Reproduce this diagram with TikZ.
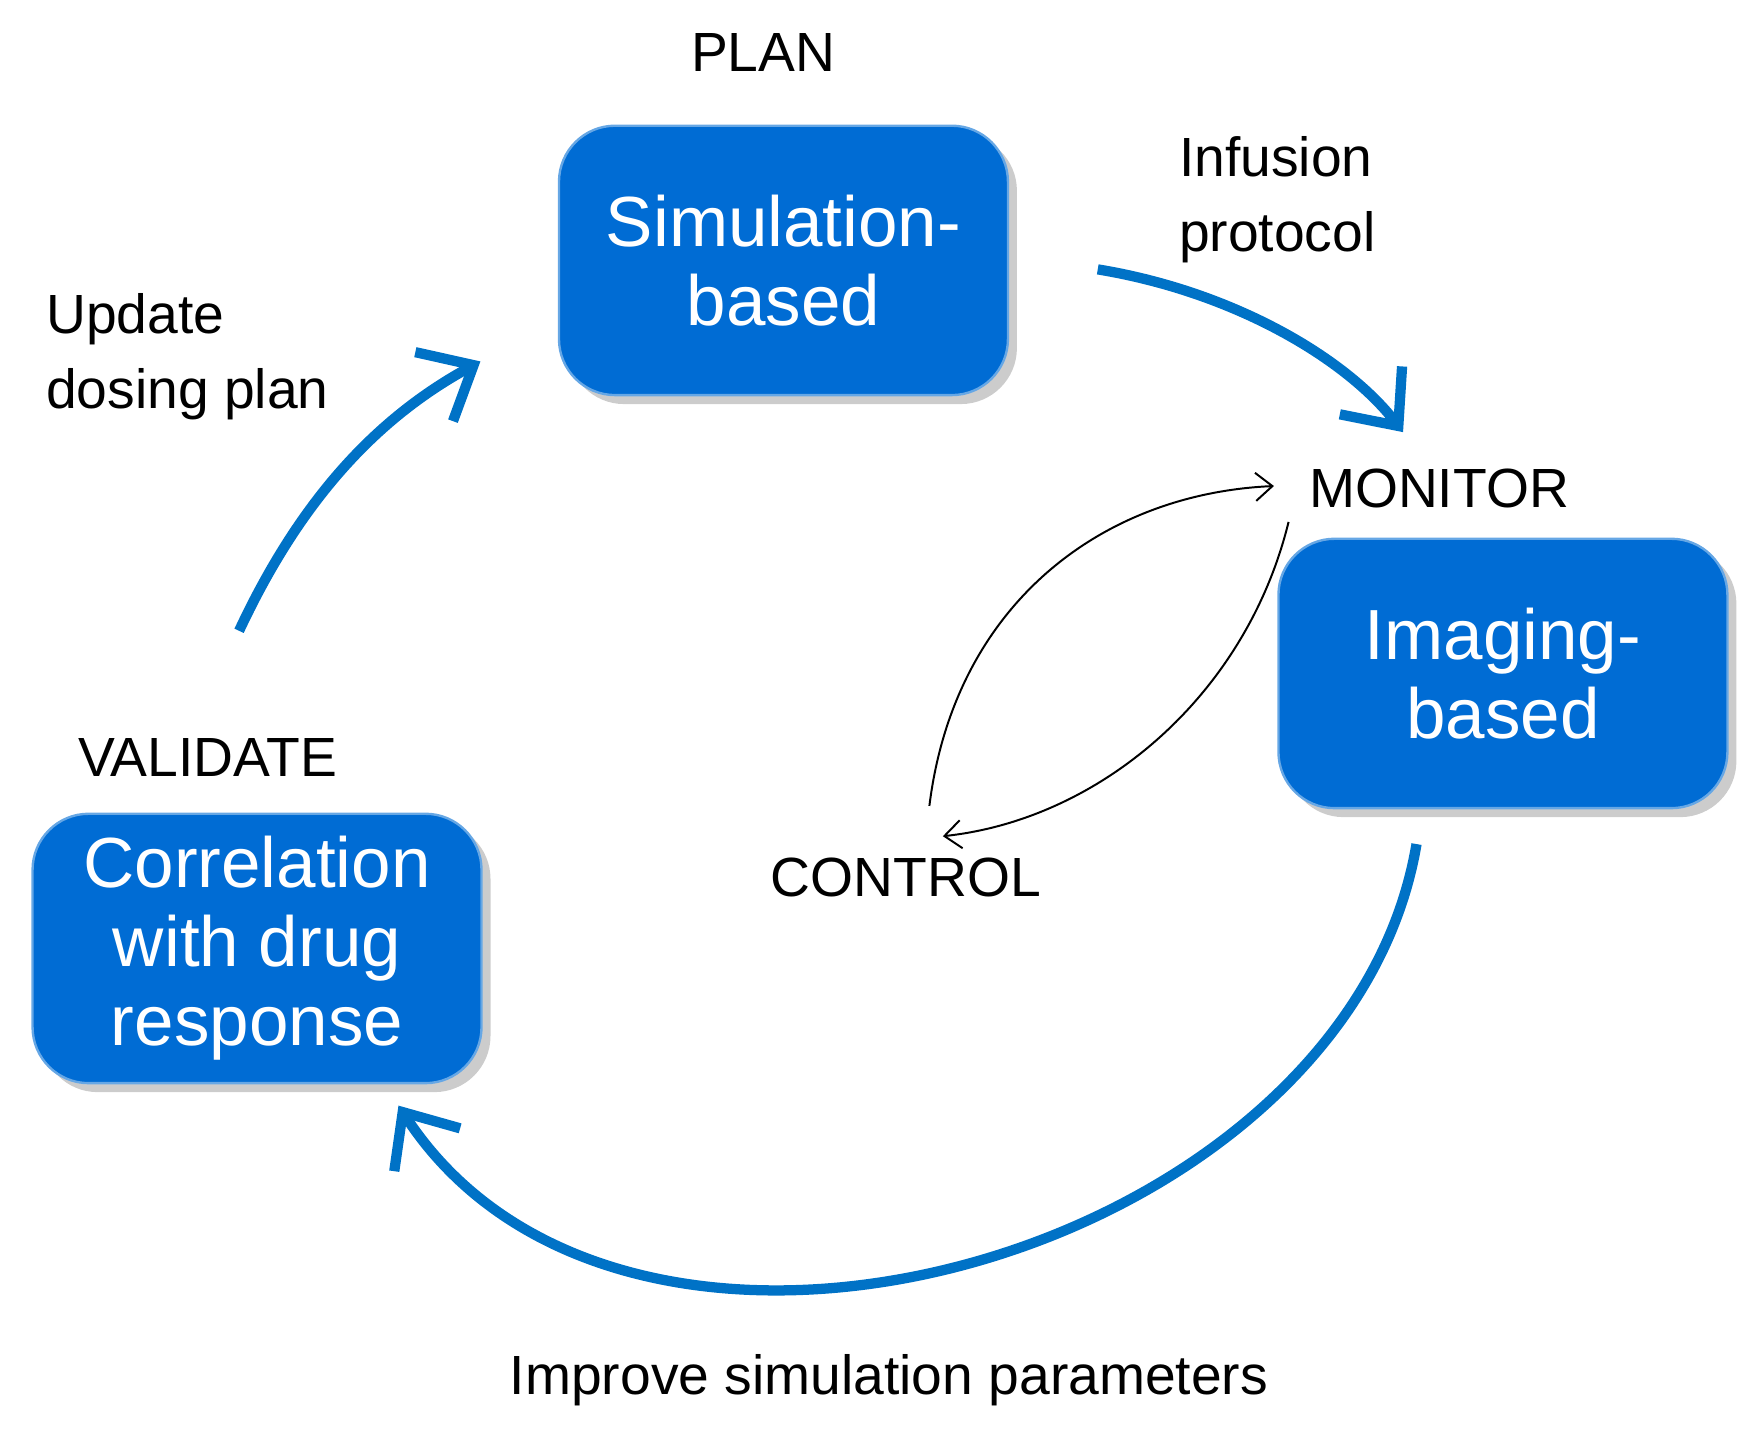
\documentclass[tikz,border=0pt]{standalone}
\usepackage{fontspec}
\setmainfont{Liberation Sans}
\usetikzlibrary{arrows.meta,shadows}
\definecolor{boxblue}{RGB}{0,108,212}
\definecolor{arrowblue}{RGB}{0,114,198}
\begin{document}
\begin{tikzpicture}[x=0.1mm,y=-0.1mm,
  box/.style={rectangle, rounded corners=5mm, fill=boxblue, draw=boxblue!60!white, line width=0.6pt,
    minimum width=40mm, minimum height=24mm, align=center, text=white,
    font=\fontsize{18}{20}\selectfont, drop shadow={shadow xshift=0.8mm, shadow yshift=-0.8mm, opacity=0.4}},
  lbl/.style={font=\fontsize{14}{19}\selectfont, align=left},
  big/.style={arrowblue, line width=2.6pt, -{Straight Barb[length=4mm,width=7mm,line width=2.6pt]}},
  thin/.style={black, line width=0.5pt, -{Straight Barb[length=1.5mm,width=2.5mm]}}]
\useasboundingbox (0,0) rectangle (1560,1275);

\node[box] (sim) at (698,232) {Simulation-\\based};
\node[box] (img) at (1339,600) {Imaging-\\based};
\node[box] (cor) at (229,845) {Correlation\\with drug\\response};

\node[lbl] (plan) at (680,47) {PLAN};
\node[lbl] (inf) at (1138,178) {Infusion\\protocol};
\node[lbl] (mon) at (1282,435) {MONITOR};
\node[lbl] (ctl) at (807,782) {CONTROL};
\node[lbl] (val) at (185,675) {VALIDATE};
\node[lbl] (upd) at (167,318) {Update\\dosing plan};
\node[lbl] (imp) at (792,1230) {Improve simulation parameters};

\coordinate (a1) at (978,240);
\coordinate (a2) at (1250,385);
\coordinate (b1) at (1262,752);
\coordinate (b2) at (355,985);
\coordinate (c1) at (213,562);
\coordinate (c2) at (428,322);
\coordinate (t1) at (828,718);
\coordinate (t2) at (1135,433);
\coordinate (u1) at (1148,465);
\coordinate (u2) at (840,745);

\draw[big] (a1) .. controls (1100,260) and (1200,320) .. (a2);
\draw[big] (b1) .. controls (1200,1120) and (560,1300) .. (b2);
\draw[big] (c1) .. controls (270,440) and (340,370) .. (c2);
\draw[thin] (t1) .. controls (850,540) and (980,440) .. (t2);
\draw[thin] (u1) .. controls (1110,620) and (980,730) .. (u2);
\end{tikzpicture}
\end{document}
